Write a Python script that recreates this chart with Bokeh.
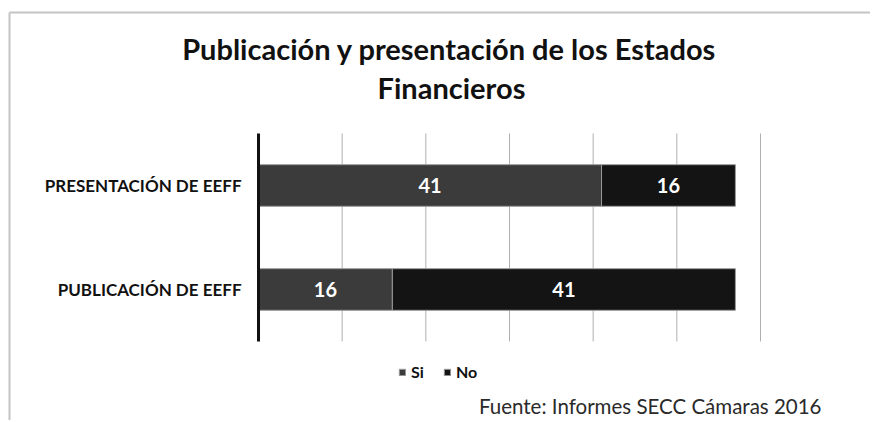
from bokeh.plotting import figure
from bokeh.models import Range1d, ColumnDataSource, Legend, LegendItem
from bokeh.core.properties import value
from bokeh.embed import file_html
from bokeh.resources import INLINE

categories = ["PUBLICACIÓN DE EEFF", "PRESENTACIÓN DE EEFF"]
si_values = [16, 41]
no_values = [41, 16]
series_names = ["Si", "No"]
x_ticks = [0, 10, 20, 30, 40, 50, 60]
title_lines = ["Publicación y presentación de los Estados", "Financieros"]
source_text = "Fuente: Informes SECC Cámaras 2016"

FONT = "Lato"
SI_COLOR = "#3b3b3b"
NO_COLOR = "#141414"
TEXT = "#111111"

# page-pixel layout of the plotting area (frame covers the whole canvas)
W, H = 870, 420
PAGE_OFF = 0
AX_LEFT, AX_RIGHT = 258, 760      # x = 0 and x = 60
AX_TOP, AX_BOTTOM = 133, 341      # top / bottom of category band
KX = (AX_RIGHT - AX_LEFT) / (x_ticks[-1] - x_ticks[0])
KY = (AX_BOTTOM - AX_TOP) / len(categories)

def dx(px):
    return (px - AX_LEFT) / KX

def dy(py):
    return (AX_BOTTOM - py) / KY

ypos = [i + 0.5 for i in range(len(categories))]
si_start = [0] * len(si_values)
si_end = list(si_values)
no_start = list(si_values)
no_end = [a + b for a, b in zip(si_values, no_values)]

src = ColumnDataSource(dict(
    y=ypos, cat=categories, si_start=si_start, si_end=si_end, no_start=no_start, no_end=no_end,
    si_mid=[(a + b) / 2 for a, b in zip(si_start, si_end)],
    no_mid=[(a + b) / 2 for a, b in zip(no_start, no_end)],
    si_lab=[str(v) for v in si_values], no_lab=[str(v) for v in no_values],
))

p = figure(width=W, height=H,
           x_range=Range1d(dx(PAGE_OFF), dx(PAGE_OFF + W)),
           y_range=Range1d(dy(PAGE_OFF + H), dy(PAGE_OFF)),
           output_backend="svg", toolbar_location=None, min_border=0)
p.axis.visible = False
p.grid.visible = False
p.outline_line_color = None
p.background_fill_color = "white"
p.border_fill_color = "white"

# chart border (light gray frame)
p.multi_line(xs=[[dx(9), dx(9)], [dx(9), dx(PAGE_OFF + W)]],
             ys=[[dy(PAGE_OFF + H), dy(12)], [dy(12), dy(12)]],
             line_color="#c4c4c4", line_width=2)

# vertical gridlines
grid_x = x_ticks[1:]
p.segment(x0=grid_x, x1=grid_x, y0=[0] * len(grid_x), y1=[len(categories)] * len(grid_x),
          line_color="#b0b0b0", line_width=1)

r_si = p.hbar(y="y", left="si_start", right="si_end", height=0.4, source=src,
              fill_color=SI_COLOR, line_color="#9a9a9a", line_width=1)
r_no = p.hbar(y="y", left="no_start", right="no_end", height=0.4, source=src,
              fill_color=NO_COLOR, line_color="#9a9a9a", line_width=1)

# category axis line
p.segment(x0=[x_ticks[0]], x1=[x_ticks[0]], y0=[0], y1=[len(categories)],
          line_color=TEXT, line_width=3)

# category labels
p.text(x=[dx(241)] * len(categories), y=ypos, text=categories, text_align="right",
       text_baseline="middle", text_font=value(FONT), text_font_size="17px",
       text_font_style="bold", text_color=TEXT)

# value labels
for xcol, tcol in (("si_mid", "si_lab"), ("no_mid", "no_lab")):
    p.text(x=xcol, y="y", text=tcol, source=src, text_align="center",
           text_baseline="middle", text_color="white", text_font=value(FONT),
           text_font_size="20px", text_font_style="bold")

# title
p.text(x=[dx(449), dx(451)], y=[dy(48), dy(87)], text=title_lines, text_align="center",
       text_baseline="middle", text_font=value(FONT), text_font_size="29px",
       text_font_style="bold", text_color=TEXT)

# source
p.text(x=[dx(821)], y=[dy(405)], text=[source_text], text_align="right",
       text_baseline="middle", text_font=value(FONT), text_font_size="20.5px",
       text_color="#2a2a2a")

legend = Legend(items=[LegendItem(label=series_names[0], renderers=[r_si]),
                       LegendItem(label=series_names[1], renderers=[r_no])],
                orientation="horizontal", location=(398 - PAGE_OFF, PAGE_OFF + H - 381),
                padding=0, margin=0, spacing=12, label_standoff=5, glyph_width=8, glyph_height=8,
                label_text_font=FONT, label_text_font_size="16px", label_text_font_style="bold",
                label_text_color=TEXT, border_line_alpha=0, background_fill_alpha=0)
p.add_layout(legend)

open("out.html", "w").write(file_html(p, INLINE))
